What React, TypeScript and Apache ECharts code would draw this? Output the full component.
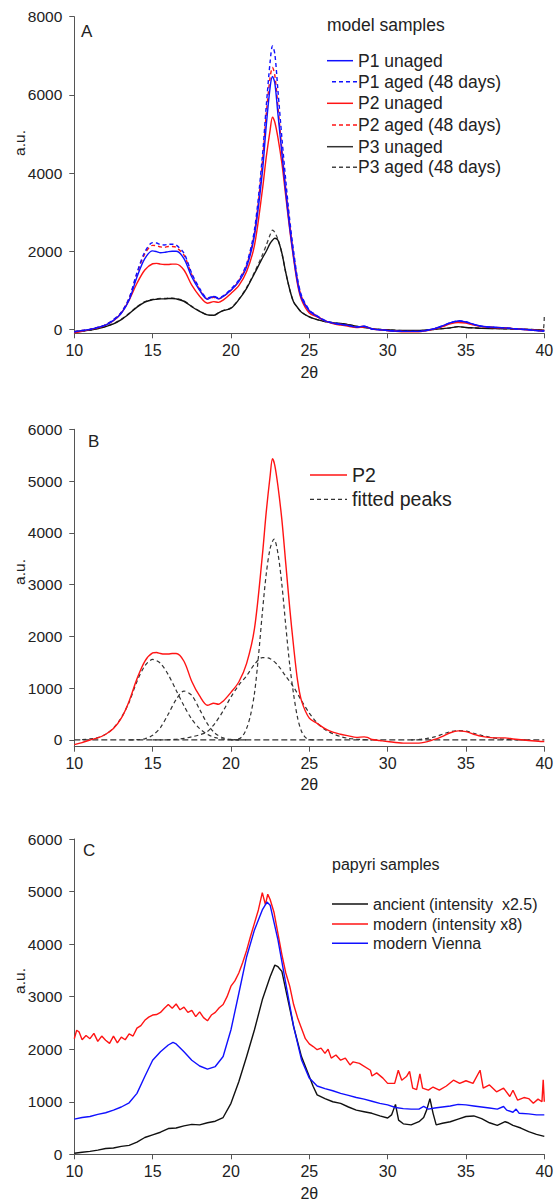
import React, { useEffect, useRef } from "react";
import * as echarts from "echarts";

const FONT = '"Liberation Sans", Arial, Helvetica, sans-serif';
const BLUE = "#1010ff";
const RED = "#ff1414";
const BLACK = "#111111";
const AXIS = "#555555";
const TXT = "#222222";

// ---------- Panel A: model samples ----------
const A_X = [
  10, 10.5, 11, 11.5, 12, 12.5, 13, 13.5, 14, 14.5,
  15, 15.25, 15.5, 15.75, 16, 16.25, 16.5, 17, 17.5, 18,
  18.5, 18.9, 19.2, 19.5, 20, 20.5, 21, 21.5, 22, 22.25,
  22.5, 22.65, 22.8, 23, 23.25, 23.5, 23.75, 24, 24.25, 24.5,
  25, 25.5, 26, 26.5, 27, 27.5, 28, 28.5, 28.7, 29,
  29.5, 30, 31, 32, 33, 33.5, 34, 34.5, 35, 35.5,
  36, 37, 37.5, 38, 39, 39.9, 40,
];
const P1_UNAGED = [
  -60, -30, 0, 50, 110, 230, 410, 750, 1340, 1810,
  2010, 1990, 1960, 1970, 1990, 2000, 2000, 1810, 1340, 1000,
  770, 840, 780, 840, 1000, 1220, 1600, 2400, 4000, 5200,
  6200, 6470, 6300, 5500, 4500, 3500, 2600, 1850, 1200, 800,
  470, 330, 220, 160, 130, 100, 60, 80, 60, 10,
  -10, -30, -50, -50, 20, 90, 170, 215, 190, 130,
  80, 50, 40, 20, -10, -40, -40,
];
const P1_AGED = [
  -60, -30, 0, 50, 120, 250, 440, 800, 1450, 1980,
  2220, 2210, 2170, 2160, 2180, 2180, 2160, 1950, 1430, 1050,
  800, 850, 800, 860, 1030, 1270, 1680, 2550, 4400, 5700,
  6850, 7250, 7050, 6100, 4900, 3800, 2800, 2000, 1300, 870,
  500, 350, 230, 170, 130, 100, 60, 80, 60, 10,
  -10, -30, -50, -50, 20, 90, 170, 220, 195, 130,
  80, 50, 40, 20, -10, -40, -40,
];
const P2_UNAGED = [
  -90, -50, 0, 40, 110, 220, 420, 750, 1180, 1520,
  1680, 1690, 1670, 1660, 1660, 1670, 1670, 1520, 1130, 850,
  670, 710, 690, 750, 920, 1120, 1480, 2150, 3550, 4400,
  5100, 5430, 5300, 4900, 4250, 3400, 2550, 1800, 1150, 760,
  420, 320, 220, 150, 110, 80, 50, 60, 50, 10,
  -10, -30, -60, -60, 10, 70, 140, 175, 160, 110,
  70, 40, 40, 20, -10, -30, -30,
];
const P2_AGED = [
  -60, -30, 0, 50, 120, 240, 430, 790, 1420, 1930,
  2150, 2140, 2110, 2100, 2120, 2120, 2100, 1900, 1400, 1020,
  780, 820, 780, 840, 1000, 1240, 1640, 2470, 4250, 5500,
  6450, 6700, 6500, 5700, 4600, 3600, 2700, 1900, 1250, 840,
  480, 340, 225, 160, 130, 100, 60, 80, 60, 10,
  -10, -30, -50, -50, 20, 80, 160, 200, 180, 120,
  80, 50, 40, 20, -10, -40, -40,
];
const P3_UNAGED = [
  -60, -40, -20, 20, 70, 140, 250, 400, 570, 700,
  760, 770, 780, 780, 790, 790, 780, 720, 580, 460,
  370, 360, 420, 480, 540, 760, 1050, 1430, 1820, 2000,
  2200, 2280, 2330, 2280, 1950, 1450, 1020, 700, 560, 440,
  320, 250, 200, 170, 150, 120, 80, 50, 40, 20,
  0, -10, -30, -30, 0, 20, 40, 70, 50, 40,
  30, 20, 15, 10, 0, -20, -20,
];
const P3_AGED = [
  -60, -40, -20, 20, 80, 150, 260, 410, 580, 710,
  770, 780, 790, 790, 800, 800, 790, 730, 590, 470,
  370, 360, 420, 480, 550, 770, 1070, 1460, 1900, 2150,
  2420, 2540, 2480, 2300, 1950, 1450, 1020, 700, 560, 440,
  320, 250, 200, 170, 150, 120, 80, 50, 40, 20,
  0, -10, -30, -30, 0, 20, 40, 70, 50, 40,
  30, 20, 15, 10, 0, -20, 380,
];

// ---------- Panel B: fitted peaks ----------
const FIT1: [number, number][] = [
  [10.5, 5], [11, 20], [11.5, 45], [12, 110], [12.5, 230], [13, 430], [13.5, 730],
  [14, 1130], [14.5, 1430], [15, 1555], [15.5, 1480], [16, 1260], [16.5, 960],
  [17, 660], [17.5, 400], [18, 220], [18.5, 110], [19, 45], [19.5, 18], [20, 5], [21, 0],
];
const FIT2: [number, number][] = [
  [13.5, 0], [14, 5], [14.5, 22], [15, 90], [15.5, 240], [16, 500], [16.5, 780],
  [17, 945], [17.5, 860], [18, 590], [18.5, 310], [19, 125], [19.5, 40], [20, 10], [20.5, 0],
];
const FIT3: [number, number][] = [
  [15, 0], [16, 5], [16.5, 13], [17, 30], [17.5, 60], [18, 100], [18.5, 165],
  [19, 330], [19.5, 560], [20, 830], [20.5, 1060], [21, 1240], [21.5, 1460],
  [22, 1590], [22.5, 1570], [23, 1440], [23.5, 1230], [24, 1020], [24.5, 760],
  [25, 520], [25.5, 330], [26, 200], [26.5, 120], [27, 65], [27.5, 30], [28, 15], [29, 0],
];
const FIT4: [number, number][] = [
  [20, 0], [20.5, 20], [20.75, 80], [21, 225], [21.25, 480], [21.5, 900], [21.75, 1600],
  [22, 2450], [22.25, 3200], [22.5, 3700], [22.75, 3880], [23, 3600], [23.25, 3000],
  [23.5, 2200], [23.75, 1450], [24, 880], [24.25, 430], [24.5, 170], [24.75, 50], [25, 10], [25.5, 0],
];
const FIT5: [number, number][] = [
  [31.5, 0], [32, 10], [32.5, 30], [33, 60], [33.5, 110], [34, 160], [34.5, 180],
  [35, 170], [35.5, 130], [36, 90], [36.5, 55], [37, 30], [37.5, 15], [38, 5], [39, 0],
];
const BASELINE: [number, number][] = [[10, 0], [40, 0]];

// ---------- Panel C: papyri samples ----------
const ANCIENT: [number, number][] = [
  [10, 20], [10.5, 40], [11, 55], [11.5, 80], [12, 110], [12.5, 120], [13, 150], [13.5, 170],
  [14, 230], [14.5, 320], [15, 370], [15.5, 420], [16, 490], [16.5, 500], [17, 540], [17.5, 570],
  [18, 560], [18.5, 600], [19, 630], [19.5, 700], [20, 970], [20.5, 1380], [21, 1860], [21.5, 2370],
  [22, 2940], [22.5, 3380], [22.8, 3600], [23, 3570], [23.25, 3480], [23.5, 3130], [24, 2430],
  [24.5, 1860], [25, 1480], [25.25, 1290], [25.5, 1130], [26, 1060], [26.5, 1000], [27, 970],
  [27.5, 900], [28, 840], [28.5, 810], [29, 780], [29.5, 730], [30, 690], [30.25, 750],
  [30.5, 950], [30.7, 650], [31, 580], [31.5, 560], [32, 620], [32.3, 700], [32.5, 850],
  [32.7, 1060], [32.9, 780], [33.1, 560], [33.5, 590], [34, 620], [34.5, 670], [35, 720],
  [35.5, 730], [36, 680], [36.5, 600], [37, 550], [37.5, 620], [37.7, 600], [38, 550],
  [38.5, 500], [39, 430], [39.5, 380], [40, 340],
];
const MODERN_X8: [number, number][] = [
  [10, 2200], [10.15, 2360], [10.3, 2330], [10.5, 2180], [10.75, 2260], [11, 2200], [11.25, 2300],
  [11.5, 2150], [11.75, 2250], [12, 2170], [12.25, 2110], [12.5, 2250], [12.75, 2120], [13, 2230],
  [13.25, 2180], [13.5, 2290], [13.75, 2250], [14, 2400], [14.25, 2450], [14.5, 2550], [14.75, 2610],
  [15, 2650], [15.25, 2660], [15.5, 2700], [15.75, 2780], [16, 2850], [16.25, 2780], [16.5, 2860],
  [16.75, 2750], [17, 2800], [17.25, 2700], [17.5, 2740], [17.75, 2620], [18, 2710], [18.25, 2600],
  [18.5, 2540], [18.75, 2650], [19, 2700], [19.25, 2790], [19.5, 2850], [19.75, 3000], [20, 3200],
  [20.25, 3300], [20.5, 3450], [20.75, 3650], [21, 3880], [21.25, 4150], [21.5, 4400], [21.75, 4650],
  [22, 4980], [22.2, 4750], [22.35, 4950], [22.5, 4850], [22.75, 4600], [23, 4200], [23.25, 3800],
  [23.5, 3450], [23.75, 3200], [24, 2850], [24.25, 2600], [24.5, 2400], [24.75, 2200], [25, 2100],
  [25.25, 2050], [25.5, 1990], [25.75, 2020], [26, 1920], [26.2, 2000], [26.4, 1830], [26.7, 1890],
  [27, 1790], [27.3, 1830], [27.6, 1700], [27.8, 1760], [28.2, 1730], [28.9, 1600], [29, 1490],
  [29.3, 1550], [29.7, 1450], [30, 1350], [30.45, 1350], [30.68, 1600], [30.9, 1410], [31.2, 1480],
  [31.4, 1580], [31.6, 1260], [31.85, 1230], [32.06, 1530], [32.23, 1260], [32.6, 1220], [32.9, 1280],
  [33.3, 1220], [33.75, 1300], [34.2, 1410], [34.6, 1350], [35, 1400], [35.45, 1350], [35.9, 1600],
  [36.1, 1260], [36.5, 1320], [36.95, 1190], [37.4, 1260], [37.8, 1100], [38, 1220], [38.3, 1030],
  [38.7, 1080], [39, 1060], [39.3, 970], [39.6, 1050], [39.85, 1000], [39.93, 1420], [40, 1000],
];
const VIENNA: [number, number][] = [
  [10, 670], [10.5, 700], [11, 720], [11.5, 760], [12, 790], [12.5, 840], [13, 900], [13.5, 980],
  [14, 1160], [14.5, 1480], [15, 1790], [15.5, 1950], [16, 2080], [16.3, 2130], [16.5, 2100],
  [17, 1950], [17.5, 1790], [18, 1680], [18.5, 1620], [19, 1670], [19.5, 1860], [20, 2370],
  [20.5, 3060], [21, 3760], [21.5, 4270], [22, 4650], [22.3, 4800], [22.5, 4740], [23, 4080],
  [23.5, 3250], [24, 2430], [24.5, 1800], [25, 1450], [25.5, 1300], [26, 1250], [26.5, 1210],
  [27, 1160], [27.5, 1120], [28, 1080], [28.5, 1050], [29, 1010], [29.5, 970], [30, 940],
  [30.5, 890], [31, 870], [31.5, 860], [32, 860], [32.3, 910], [32.6, 860], [33, 880], [33.5, 900],
  [34, 920], [34.5, 950], [35, 940], [35.5, 920], [36, 900], [36.5, 880], [37, 860], [37.4, 910],
  [37.6, 840], [38, 800], [38.2, 860], [38.4, 780], [39, 770], [39.5, 750], [40, 750],
];

const A_Y_TICKS = [0, 2000, 4000, 6000, 8000];
const B_Y_TICKS = [0, 1000, 2000, 3000, 4000, 5000, 6000];

const pairs = (xs: number[], ys: number[]) => xs.map((x, i) => [x, ys[i]]);

function xAxisCfg(gridIndex: number, nameGap: number) {
  return {
    type: "value",
    gridIndex,
    min: 10,
    max: 40,
    interval: 5,
    name: "2θ",
    nameLocation: "middle",
    nameGap,
    nameTextStyle: { fontSize: 16, color: TXT, fontFamily: FONT },
    axisLine: { show: true, onZero: false, lineStyle: { color: AXIS, width: 1 } },
    axisTick: { show: true, length: 5, lineStyle: { color: AXIS } },
    axisLabel: { fontSize: 16, color: TXT, margin: 9, fontFamily: FONT },
    splitLine: { show: false },
  };
}

function yAxisCfg(gridIndex: number, min: number, max: number, ticks: number[] | null) {
  const cfg: any = {
    type: "value",
    gridIndex,
    min,
    max,
    axisLine: { show: true, onZero: false, lineStyle: { color: AXIS, width: 1 } },
    axisTick: { show: true, length: 5, lineStyle: { color: AXIS } },
    axisLabel: {
      fontSize: 15.5,
      color: TXT,
      margin: 12,
      fontFamily: FONT,
      formatter: (v: number) => String(v),
    },
    splitLine: { show: false },
  };
  if (ticks) {
    cfg.axisTick.customValues = ticks;
    cfg.axisLabel.customValues = ticks;
  } else {
    cfg.interval = 1000;
  }
  return cfg;
}

function lineSeries(
  name: string,
  data: any[],
  idx: number,
  color: string,
  dashed: boolean,
  smooth: number | boolean,
  width = 1.4,
  dash: number[] = [4, 3]
) {
  return {
    type: "line",
    name,
    data,
    xAxisIndex: idx,
    yAxisIndex: idx,
    showSymbol: false,
    symbol: "none",
    smooth,
    clip: false,
    lineStyle: { color, width, type: dashed ? dash : "solid" },
    emphasis: { disabled: true },
  };
}

function txt(text: string, x: number, y: number, size: number, extra: any = {}) {
  return {
    type: "text",
    x,
    y,
    silent: true,
    style: {
      text,
      fontSize: size,
      fontFamily: FONT,
      fill: TXT,
      verticalAlign: "middle",
      align: "left",
      ...extra,
    },
  };
}

function seg(x1: number, x2: number, y: number, color: string, dash: number[] | null, width = 1.5) {
  return {
    type: "line",
    silent: true,
    shape: { x1, y1: y, x2, y2: y },
    style: { stroke: color, lineWidth: width, lineDash: dash || undefined },
  };
}

const legendA = [
  { name: "P1 unaged", color: BLUE, dash: null, y: 60.7 },
  { name: "P1 aged (48 days)", color: BLUE, dash: [4, 3], y: 81.7 },
  { name: "P2 unaged", color: RED, dash: null, y: 103.3 },
  { name: "P2 aged (48 days)", color: RED, dash: [4, 3], y: 125 },
  { name: "P3 unaged", color: "#333333", dash: null, y: 146.7 },
  { name: "P3 aged (48 days)", color: "#444444", dash: [4, 3], y: 167.3 },
];
const legendC = [
  { name: "ancient (intensity  x2.5)", color: BLACK, y: 904 },
  { name: "modern (intensity x8)", color: RED, y: 924 },
  { name: "modern Vienna", color: BLUE, y: 943.3 },
];

function buildOption() {
  const graphic: any[] = [];
  // panel letters
  graphic.push(txt("A", 81, 31, 17));
  graphic.push(txt("B", 88, 441, 17));
  graphic.push(txt("C", 83, 850, 17));
  // y axis names
  [143, 572, 981].forEach((cy) =>
    graphic.push({
      type: "text",
      x: 19.5,
      y: cy,
      rotation: Math.PI / 2,
      silent: true,
      style: {
        text: "a.u.",
        fontSize: 15.5,
        fontFamily: FONT,
        fill: TXT,
        align: "center",
        verticalAlign: "middle",
      },
    })
  );
  // legend A
  graphic.push(txt("model samples", 327, 25, 17.5));
  legendA.forEach((r) => {
    graphic.push(r.dash ? seg(332, 357, r.y, r.color, r.dash) : seg(327, 353, r.y, r.color, null));
    graphic.push(txt(r.name, 358, r.y, 17.5));
  });
  // legend B
  graphic.push(seg(310, 347, 475, RED, null));
  graphic.push(txt("P2", 352, 475, 19.5));
  graphic.push(seg(310, 347, 499.3, "#333333", [4, 3], 1.3));
  graphic.push(txt("fitted peaks", 352, 499.3, 19.5));
  // legend C
  graphic.push(txt("papyri samples", 332, 864, 16));
  legendC.forEach((r) => {
    graphic.push(seg(332, 368, r.y, r.color, null));
    graphic.push(txt(r.name, 373, r.y, 16));
  });

  const series: any[] = [
    lineSeries("P3 aged (48 days)", pairs(A_X, P3_AGED), 0, "#444444", true, 0.3, 1.3),
    lineSeries("P3 unaged", pairs(A_X, P3_UNAGED), 0, BLACK, false, 0.3),
    lineSeries("P2 aged (48 days)", pairs(A_X, P2_AGED), 0, RED, true, 0.3),
    lineSeries("P2 unaged", pairs(A_X, P2_UNAGED), 0, RED, false, 0.3),
    lineSeries("P1 aged (48 days)", pairs(A_X, P1_AGED), 0, BLUE, true, 0.3),
    lineSeries("P1 unaged", pairs(A_X, P1_UNAGED), 0, BLUE, false, 0.3),

    lineSeries("baseline", BASELINE, 1, "#333333", true, false, 1.2, [6, 3]),
    lineSeries("fitted peak 1", FIT1, 1, "#333333", true, 0.3, 1.2),
    lineSeries("fitted peak 2", FIT2, 1, "#333333", true, 0.3, 1.2),
    lineSeries("fitted peak 3", FIT3, 1, "#333333", true, 0.3, 1.2),
    lineSeries("fitted peak 4", FIT4, 1, "#333333", true, 0.3, 1.2),
    lineSeries("fitted peak 5", FIT5, 1, "#333333", true, 0.3, 1.2),
    lineSeries("P2", pairs(A_X, P2_UNAGED), 1, RED, false, 0.3),

    lineSeries("ancient (intensity x2.5)", ANCIENT, 2, BLACK, false, false),
    lineSeries("modern (intensity x8)", MODERN_X8, 2, RED, false, false),
    lineSeries("modern Vienna", VIENNA, 2, BLUE, false, false),
  ];

  return {
    animation: false,
    backgroundColor: "#ffffff",
    textStyle: { fontFamily: FONT },
    grid: [
      { left: 74.3, right: 11.7, top: 16.7, height: 316.6, containLabel: false, outerBoundsMode: "none" },
      { left: 74.3, right: 11.7, top: 429.3, height: 317.4, containLabel: false, outerBoundsMode: "none" },
      { left: 74.3, right: 11.7, top: 839, height: 315.3, containLabel: false, outerBoundsMode: "none" },
    ],
    xAxis: [xAxisCfg(0, 31), xAxisCfg(1, 30), xAxisCfg(2, 31)],
    yAxis: [
      yAxisCfg(0, -100, 8000, A_Y_TICKS),
      yAxisCfg(1, -130, 6000, B_Y_TICKS),
      yAxisCfg(2, 0, 6000, null),
    ],
    series,
    graphic,
  };
}

export default function App() {
  const ref = useRef<HTMLDivElement>(null);
  useEffect(() => {
    const chart = echarts.init(ref.current as HTMLDivElement, null, { renderer: "svg" });
    chart.setOption(buildOption() as any);
    return () => chart.dispose();
  }, []);
  return (
    <div
      ref={ref}
      style={{ position: "absolute", left: 0, top: 0, width: 556, height: 1201, background: "#fff" }}
    />
  );
}
